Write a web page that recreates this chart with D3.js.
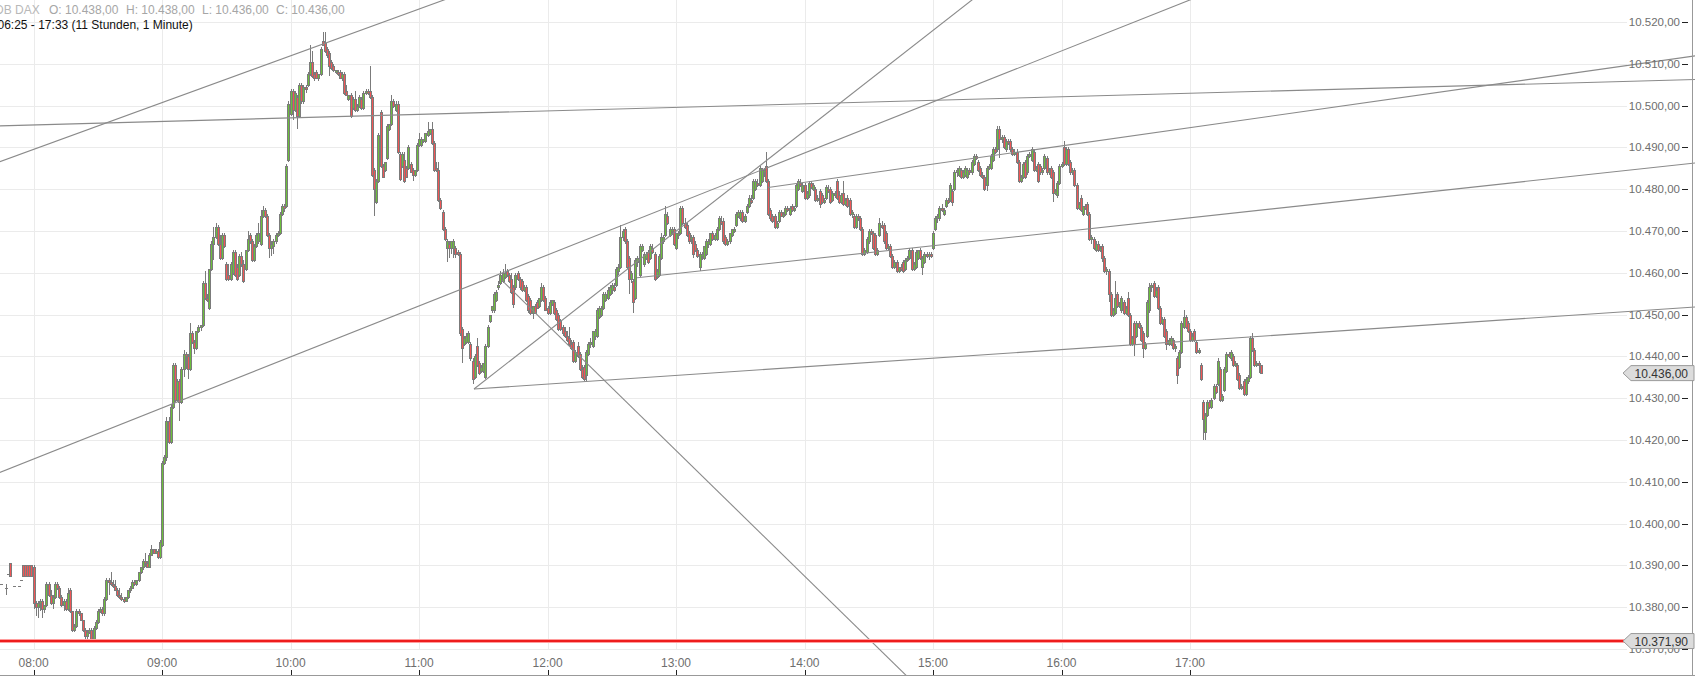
<!DOCTYPE html>
<html><head><meta charset="utf-8">
<script src="https://cdn.jsdelivr.net/npm/d3@7"></script>
<style>
html,body{margin:0;padding:0;background:#fff;overflow:hidden}
svg{display:block;font-family:"Liberation Sans",Arial,sans-serif}
</style></head><body>
<svg id="c" width="1695" height="676"></svg>
<script>
// ---------- DATA: 1-minute candles [open, high, low, close], one array per hour ----------
const hour07 = [ // from 07:44
 null,[10385.5,10385.5,10385.5,10385.5],null,[10384.5,10385.5,10383,10384.5],[10388,10388,10388,10388],
 [10390.5,10390.5,10387.5,10387.5],null,[10385,10385,10385,10385],null,[10385,10385,10385,10385],
 [10386.5,10386.5,10386.5,10386.5],[10390,10390,10387.5,10387.5],[10390,10390,10387.5,10387.5],[10390,10390,10387.5,10387.5],
 [10390,10390,10387.5,10387.5],[10390,10390,10387.5,10387.5]];
const hour08 = [
 [10389.5,10390,10379.5,10381],[10381,10381.5,10378,10380],[10380,10381.5,10377.5,10381],[10381,10382,10379,10381.5],[10381.5,10382,10377.5,10379.5],
 [10379.5,10380.5,10378.5,10380.5],[10380.5,10386,10380,10385.5],[10385.5,10386,10382.5,10383],[10383,10384,10380.5,10381],[10381,10383,10379.5,10382.5],
 [10382.5,10386,10382,10385.5],[10385.5,10386,10384,10384.5],[10384.5,10385,10382,10382.5],[10382.5,10383,10380,10380.5],[10380.5,10382,10379,10381.5],
 [10381.5,10382,10379,10379.5],[10379.5,10384.5,10379,10383.5],[10384,10384.5,10378.5,10379],[10379,10379,10374,10374.5],[10374.5,10376,10374,10375.5],
 [10375.5,10379.5,10375,10379],[10379,10379.5,10378,10378.5],[10378.5,10378.5,10377,10377],[10377,10377,10374,10374.5],[10374.5,10375,10372.5,10373],
 [10373,10374.5,10372,10374],[10374,10375,10373.5,10374.5],[10374.5,10375,10372.5,10372.5],[10372.5,10375.5,10372,10375],[10375,10377,10374.5,10376.5],
 [10376.5,10379.5,10376,10379],[10379,10380,10378.5,10379.5],[10379.5,10380,10378,10378.5],[10378.5,10382.5,10378,10382],[10382,10387,10381.5,10386.5],
 [10386.5,10387,10383,10386],[10386,10388.5,10385,10385.5],[10385.5,10386.5,10384.5,10385],[10385,10386.5,10384,10384],[10384,10384.5,10382.5,10383],
 [10383,10384.5,10382,10382.5],[10382.5,10383.5,10381.5,10382],[10382,10382.5,10381,10381.5],[10381.5,10382.5,10381.5,10382.5],[10382.5,10384,10382,10384],
 [10384,10385,10383.5,10384.5],[10384.5,10386.5,10384.5,10386],[10386,10386.5,10385,10385.5],[10385.5,10386.5,10385,10386.5],[10386.5,10388.5,10386,10388.5],
 [10388.5,10389.5,10388,10389.5],[10389.5,10391.5,10389,10391],[10391,10393,10389.5,10390.5],[10390.5,10391,10389.5,10389.5],[10389.5,10393,10389.5,10392.5],
 [10392.5,10395,10392.5,10394],[10394,10394,10393,10393],[10393,10394,10393,10393.5],[10393.5,10394,10391.5,10392],[10392,10396,10391.5,10395.5]];
const hour09 = [
 [10395,10415,10394.5,10414.5],[10414.5,10416.5,10414,10416],[10416,10425.5,10415,10424.5],[10424.5,10425.5,10419,10419.5],[10419.5,10428.5,10419,10428],
 [10428,10438.5,10427.5,10438],[10438,10438.5,10429,10429.5],[10429.5,10434.5,10429,10434],[10434,10434.5,10424.5,10429],[10429,10437.5,10428.5,10437],
 [10437,10441.5,10435,10440.5],[10440.5,10441,10437,10440],[10440,10440.5,10434.5,10437],[10437,10448,10436.5,10445.5],[10445.5,10446,10443,10443.5],
 [10443.5,10444,10440.5,10442],[10442,10446,10441.5,10446],[10446,10447.5,10445.5,10447],[10447,10447.5,10446,10447.5],[10447.5,10458,10447,10457.5],
 [10457.5,10460.5,10453.5,10454],[10454,10455,10453,10453.5],[10451.5,10461,10451,10461],[10461,10467.5,10460.5,10467],[10467,10471,10463,10468.5],
 [10468.5,10472,10468,10471],[10471,10471.5,10466.5,10467],[10467,10469,10463,10463.5],[10463.5,10469.5,10463,10469],[10469,10469.5,10466,10466.5],
 [10462,10462.5,10458,10458.5],[10459.5,10462,10458,10458.5],[10458.5,10462.5,10458,10462],[10460,10465.5,10459.5,10465],[10465,10465.5,10459,10459.5],
 [10461.5,10462,10458,10458.5],[10459.5,10464.5,10459,10464],[10464,10465,10461.5,10462],[10462,10463,10457.5,10458],[10461,10465.5,10460.5,10465.5],
 [10465.5,10470,10465,10468],[10469,10469.5,10467,10467.5],[10467.5,10468,10462.5,10463],[10463,10467,10462.5,10466.5],[10466.5,10469.5,10466,10469],
 [10467.5,10472,10467,10469.5],[10467,10475,10466.5,10473.5],[10473.5,10476,10473,10475],[10475,10475.5,10473,10473.5],[10473.5,10474,10468.5,10469],
 [10469,10469.5,10463.5,10466],[10466,10467.5,10464,10467],[10466.5,10468,10464.5,10467.5],[10467.5,10469.5,10467,10469],[10469,10470,10468.5,10469.5],
 [10469.5,10474.5,10469,10474],[10474,10476.5,10473.5,10476],[10476,10476.5,10474.5,10475.5],[10476,10486,10475.5,10485.5],[10487,10501,10486.5,10500.5]];
const hour10 = [
 [10498,10504,10497.5,10503.5],[10503.5,10504,10496.5,10499],[10499,10503.5,10498.5,10503],[10502,10502.5,10494.5,10497.5],[10497.5,10505.5,10497,10505],
 [10505,10505.5,10500.5,10501],[10501,10505,10500.5,10504.5],[10504.5,10505,10503,10504],[10505,10508,10504.5,10507.5],[10507.5,10514.5,10507,10510.5],
 [10510.5,10513,10506.5,10507],[10507.5,10508,10506,10506.5],[10508,10508.5,10506.5,10506.5],[10506.5,10507.5,10506,10507.5],[10507.5,10514,10507,10513.5],
 [10515.5,10517.5,10514.5,10514.5],[10515,10517.5,10512.5,10513],[10513.5,10514,10511.5,10512],[10512.5,10513,10507,10509.5],[10510.5,10511,10508.5,10509],
 [10509.5,10510,10508,10508.5],[10508,10508.5,10507.5,10508.5],[10508,10508.5,10507,10507.5],[10508,10508.5,10506.5,10506.5],[10506.5,10508,10506,10507.5],
 [10507.5,10508,10502.5,10503],[10503.5,10505,10502.5,10502.5],[10501.5,10502.5,10501,10502.5],[10502.5,10503,10497,10497.5],[10499.5,10502,10499,10501.5],
 [10501.5,10503.5,10498.5,10499],[10499,10500.5,10498.5,10500],[10500,10502.5,10499.5,10502],[10501.5,10502,10499,10499.5],[10499.5,10503.5,10499,10503],
 [10503,10504,10502.5,10503.5],[10503.5,10504,10502.5,10503],[10503.5,10509.5,10501.5,10502],[10502,10502.5,10483,10483.5],[10484.5,10485,10473.5,10480],
 [10477,10482.5,10476.5,10482],[10482,10493.5,10481.5,10493],[10498.5,10499,10485,10485.5],[10485.5,10486,10483,10483],[10484.5,10486.5,10484,10486.5],
 [10487.5,10495.5,10487,10495],[10494.5,10495.5,10494,10495.5],[10495.5,10502.5,10495,10501],[10501,10501.5,10499.5,10500],[10499,10501,10498.5,10500.5],
 [10500.5,10501,10488.5,10489],[10488.5,10489,10482,10482.5],[10485.5,10489,10485,10488.5],[10487,10489,10481.5,10482],[10485,10485.5,10483,10483],
 [10485,10490.5,10484.5,10490],[10486,10486.5,10484,10484],[10484.5,10485,10482,10483.5],[10483.5,10484.5,10483,10484.5],[10484.5,10491,10484,10490.5]];
const hour11 = [
 [10490.5,10493.5,10490,10492],[10490.5,10492.5,10490,10492],[10491.5,10492,10491,10492],[10491.5,10493.5,10491,10493.5],[10493,10496,10492.5,10494],
 [10493.5,10494.5,10493,10494.5],[10494.5,10496,10490.5,10491],[10491,10491.5,10484,10484.5],[10485,10486.5,10484,10484.5],[10484.5,10486.5,10477,10477.5],
 [10477.5,10478,10475,10475.5],[10474.5,10475,10470,10470.5],[10470.5,10471,10467.5,10468],[10466,10468,10462.5,10467.5],[10467,10467.5,10463.5,10466],
 [10466,10467.5,10464.5,10467.5],[10466,10468,10463.5,10467.5],[10466,10466.5,10463.5,10464.5],[10465,10465.5,10464,10464.5],[10464.5,10465,10445,10445.5],
 [10446.5,10447,10438.5,10442],[10443,10445,10442.5,10444.5],[10443.5,10445.5,10443,10445],[10443.5,10446,10443,10445.5],[10443,10443.5,10439,10439.5],
 [10439,10439.5,10433.5,10434.5],[10435,10440.5,10434.5,10440],[10442.5,10444.5,10437.5,10438],[10438.5,10439,10435.5,10436],[10436.5,10438,10436,10437.5],
 [10436.5,10438.5,10436,10438.5],[10435,10443,10434.5,10442.5],[10442.5,10447.5,10442,10447],[10448.5,10450,10448,10450],[10451,10452,10450.5,10452],
 [10451,10455.5,10450.5,10455],[10453.5,10456,10453,10455.5],[10456.5,10458,10456,10457],[10457.5,10460.5,10457,10459.5],[10458,10461,10457.5,10460],
 [10459,10462,10458.5,10460],[10460.5,10461,10459,10459.5],[10459.5,10460,10457.5,10458],[10458.5,10460,10455,10455.5],[10456.5,10457,10451.5,10452.5],
 [10456.5,10460,10456,10459.5],[10460,10460.5,10458,10458.5],[10458.5,10459,10456,10456.5],[10458,10458.5,10455.5,10456],[10456,10457,10455.5,10456.5],
 [10456.5,10457,10453,10453.5],[10454.5,10455,10450.5,10451],[10453.5,10454,10450,10450.5],[10450.5,10452,10449,10452],[10452,10452.5,10450.5,10450.5],
 [10453,10453.5,10451.5,10451.5],[10452,10454,10451.5,10454],[10453.5,10457.5,10453,10456.5],[10456.5,10457,10453,10453.5],[10454,10454.5,10451,10451]];
const hour12 = [
 [10451.5,10452,10450,10450.5],[10450.5,10453.5,10450,10453],[10452.5,10453.5,10452,10453.5],[10453,10453.5,10450,10450.5],[10451,10451.5,10448.5,10449],
 [10450,10450.5,10446,10446.5],[10448.5,10449,10446,10446.5],[10447,10447.5,10445,10445.5],[10446,10447,10444.5,10445],[10445,10446,10443.5,10444],
 [10444.5,10447,10442.5,10443],[10443,10444,10441.5,10442],[10443.5,10444,10438.5,10439],[10439,10441.5,10438.5,10441],[10442.5,10443.5,10439.5,10440],
 [10440.5,10441,10436.5,10437],[10437,10438,10434.5,10435],[10437.5,10438,10434,10434.5],[10435.5,10441.5,10434,10441],[10440.5,10443.5,10440,10443],
 [10443,10444.5,10442,10443.5],[10442.5,10446,10442,10446],[10445,10446.5,10444,10446],[10445,10451.5,10444.5,10451],[10449.5,10452,10449,10451.5],
 [10450,10452,10449.5,10451.5],[10451.5,10455.5,10451,10455],[10453.5,10455.5,10453,10455],[10454,10456.5,10453.5,10456],[10455,10457,10454.5,10456.5],
 [10456,10457.5,10455,10457],[10456.5,10457.5,10455.5,10456],[10457,10461.5,10456.5,10461],[10460.5,10462,10459.5,10461.5],[10461.5,10471.5,10461,10468.5],
 [10468.5,10470.5,10467.5,10470],[10470.5,10471,10467,10467.5],[10467.5,10468,10461,10461.5],[10463.5,10464,10455,10458.5],[10458.5,10460.5,10457.5,10460],
 [10458,10458.5,10450.5,10453],[10454,10463.5,10453.5,10463],[10462.5,10464,10461.5,10463.5],[10459.5,10467,10459,10466.5],[10465.5,10467,10465,10466.5],
 [10462,10465,10461.5,10464.5],[10463.5,10465,10463,10464.5],[10465,10465.5,10462,10462.5],[10463.5,10467,10463,10466.5],[10466,10467,10464.5,10465],
 [10464.5,10465,10458,10458.5],[10459,10461,10458.5,10460.5],[10459.5,10464.5,10459,10464],[10463.5,10469.5,10463,10468.5],[10467.5,10469,10467,10468.5],
 [10469,10476,10468.5,10474],[10473.5,10474.5,10471.5,10472],[10469,10471,10468.5,10470.5],[10470,10471,10469,10470.5],[10470.5,10471,10466.5,10467]];
const hour13 = [
 [10466,10469.5,10465.5,10469.5],[10469,10470,10468,10469.5],[10469.5,10476,10469,10475.5],[10475.5,10476,10471.5,10472],[10472,10473,10470.5,10471],
 [10471.5,10472,10468.5,10469],[10469.5,10470,10467,10467.5],[10468,10469,10467,10468.5],[10468.5,10469,10463.5,10464.5],[10467,10467.5,10465,10465.5],
 [10465.5,10466,10463.5,10464],[10461.5,10465,10460.5,10464.5],[10464,10465,10463,10464.5],[10463.5,10466.5,10463,10466.5],[10464.5,10468,10464,10467.5],
 [10467,10468,10466,10467.5],[10467,10469.5,10466.5,10469.5],[10469.5,10470,10467.5,10468],[10468,10469.5,10467.5,10469],[10468,10471,10467.5,10470.5],
 [10470.5,10473.5,10470,10473],[10472.5,10473.5,10471.5,10472],[10472.5,10473,10467,10467.5],[10468.5,10469,10466.5,10467],[10467,10468,10466.5,10467.5],
 [10467.5,10469.5,10467,10469.5],[10469,10470.5,10468.5,10470.5],[10470,10471,10469.5,10470.5],[10471.5,10474.5,10471,10474],[10473.5,10475,10473,10474.5],
 [10473,10475,10472.5,10474.5],[10474.5,10475,10472,10472.5],[10472.5,10474,10472,10473.5],[10474.5,10476.5,10474,10476],[10476,10478.5,10475.5,10478],
 [10477.5,10478.5,10476.5,10477],[10478,10482.5,10477.5,10482],[10480,10482.5,10479.5,10482],[10481.5,10482.5,10480.5,10481],[10481,10485.5,10480.5,10485],
 [10482,10485,10481.5,10484.5],[10484,10485,10483,10484.5],[10485.5,10489,10481.5,10482],[10482,10482.5,10473.5,10474],[10475,10475.5,10472.5,10473],
 [10473.5,10474,10472,10472.5],[10473.5,10474,10470.5,10471],[10471,10472.5,10470.5,10472],[10472.5,10475,10472,10474.5],[10474.5,10475,10473.5,10473.5],
 [10473.5,10474.5,10473,10474],[10474,10476,10473.5,10475.5],[10475.5,10476,10474.5,10475],[10474,10476,10473.5,10475.5],[10476,10476.5,10474.5,10475],
 [10475,10476,10474.5,10475.5],[10476,10481.5,10475.5,10481],[10480,10482.5,10479.5,10482],[10481.5,10482.5,10480.5,10481],[10479.5,10481.5,10479,10481]];
const hour14 = [
 [10481,10481.5,10477.5,10478],[10478,10479.5,10477.5,10479],[10478.5,10482,10478,10481.5],[10481.5,10482,10480,10480.5],[10480,10481.5,10479.5,10481],
 [10480,10480.5,10477,10477.5],[10477.5,10478.5,10477,10478],[10479.5,10480,10475.5,10476.5],[10478.5,10479,10476.5,10477],[10477,10478,10476.5,10477.5],
 [10478,10481,10477.5,10480.5],[10480,10481,10479,10479.5],[10480,10480.5,10476.5,10477],[10477.5,10479.5,10477,10479],[10478.5,10479.5,10478,10479],
 [10482,10482.5,10477.5,10478],[10478.5,10479.5,10476.5,10477],[10477,10479,10476.5,10478.5],[10479,10482,10476,10476.5],[10476.5,10478,10476,10477.5],
 [10478,10478.5,10475.5,10476],[10477.5,10478,10473.5,10474],[10474,10475,10473,10474.5],[10473.5,10474,10470.5,10471],[10471,10474,10470.5,10473.5],
 [10473.5,10474,10472.5,10473],[10473,10473.5,10470,10470.5],[10470.5,10471,10464,10464.5],[10464.5,10466,10464,10465.5],[10465,10468.5,10464.5,10468],
 [10467.5,10470.5,10467,10470],[10470,10470.5,10469,10469.5],[10469.5,10470,10465.5,10466],[10469,10469.5,10464,10464.5],[10464.5,10466,10464,10465.5],
 [10469,10473,10468.5,10472],[10471.5,10472.5,10470.5,10471],[10471.5,10472,10467,10467.5],[10469.5,10470,10465.5,10466],[10466,10467,10465.5,10466.5],
 [10466.5,10467,10463.5,10464],[10464,10464.5,10461,10461.5],[10461.5,10463,10461,10462.5],[10462.5,10463,10460,10460.5],[10460.5,10461.5,10460,10461.5],
 [10461.5,10462,10460.5,10461],[10462.5,10463,10460,10460.5],[10461,10463.5,10460.5,10463],[10463,10464,10462.5,10463.5],[10463.5,10466,10463,10465.5],
 [10465.5,10466,10460.5,10461],[10461,10462.5,10460.5,10462],[10461.5,10465.5,10461,10465],[10463.5,10465.5,10463,10465.5],[10465.5,10466,10463,10463.5],
 [10461.5,10464,10459.5,10463.5],[10462.5,10465,10462,10464.5],[10464.5,10465,10463.5,10464],[10464,10465,10463,10464.5],[10464.5,10465,10463.5,10464]];
const hour15 = [
 [10466,10470,10465.5,10469.5],[10470.5,10473.5,10470,10473],[10473,10474,10472,10473.5],[10473,10476,10472.5,10475.5],[10475.5,10476.5,10474.5,10475],
 [10474,10475.5,10473.5,10475],[10476,10478,10475.5,10477.5],[10477.5,10478,10476.5,10477],[10477.5,10481.5,10477,10481],[10479.5,10480,10476,10477],
 [10480,10484.5,10479.5,10484],[10484,10485,10483,10484.5],[10483.5,10485.5,10483,10485],[10484.5,10485,10482.5,10483],[10483,10484.5,10482.5,10484],
 [10483.5,10485.5,10483,10485],[10483,10485,10482.5,10484.5],[10484.5,10485,10483.5,10484],[10484,10487,10483.5,10486.5],[10486,10488.5,10485.5,10488],
 [10488,10488.5,10487,10487.5],[10486.5,10487,10484,10484.5],[10485,10485.5,10483,10483.5],[10483.5,10484,10482.5,10483],[10483,10483.5,10479.5,10480],
 [10481,10485.5,10479.5,10485],[10485,10486,10484.5,10485.5],[10485,10488.5,10484.5,10488],[10487,10490,10486.5,10489.5],[10489.5,10490,10488.5,10489],
 [10489.5,10495,10489,10494.5],[10494.5,10495,10487.5,10492],[10492,10493,10491,10492.5],[10492.5,10493,10489.5,10490],[10489.5,10492,10489,10491.5],
 [10491.5,10492,10490.5,10491],[10491.5,10492,10489,10489.5],[10489.5,10490,10488,10488.5],[10488.5,10489.5,10488,10489],[10489,10489.5,10486,10486.5],
 [10486.5,10487,10481.5,10482],[10482,10483.5,10481.5,10483],[10483,10486.5,10482.5,10486],[10486.5,10487,10482.5,10483],[10484,10488.5,10483.5,10488],
 [10488,10489,10487.5,10488.5],[10487,10490,10486.5,10489.5],[10489,10489.5,10484,10484.5],[10484.5,10485.5,10484,10485],[10486,10486.5,10481.5,10482],
 [10485.5,10486,10483.5,10484],[10484,10485,10483.5,10484.5],[10485,10488.5,10484.5,10488],[10487.5,10488,10483.5,10484],[10484,10485,10483.5,10484.5],
 [10485,10485.5,10482.5,10483],[10484,10484.5,10477,10479],[10479,10480,10478.5,10479.5],[10478.5,10482,10478,10481.5],[10481.5,10486,10481,10485.5]];
const hour16 = [
 [10485.5,10486.5,10485,10486],[10490,10491.5,10485.5,10486],[10486,10490,10485.5,10489.5],[10489.5,10490,10485.5,10486],[10486.5,10487,10483.5,10484],
 [10484,10485,10483.5,10484.5],[10484.5,10485,10480.5,10481],[10481,10481.5,10475,10475.5],[10475.5,10477,10475,10476.5],[10478,10478.5,10474.5,10475],
 [10474,10476,10473.5,10476],[10476,10476.5,10475,10475.5],[10476.5,10477,10473.5,10474],[10474,10474.5,10467.5,10468],[10468,10469,10467,10468.5],
 [10468,10468.5,10465.5,10466],[10465.5,10467.5,10465,10467],[10467,10467.5,10465,10465.5],[10465.5,10466.5,10465,10466],[10466.5,10467,10462.5,10463.5],
 [10463.5,10464,10460,10460.5],[10460.5,10461.5,10459.5,10461],[10460.5,10461,10453,10455],[10455,10455.5,10449.5,10450],[10450,10451.5,10449.5,10451],
 [10450.5,10458,10450,10454],[10455,10455.5,10451.5,10452],[10452,10453,10451.5,10452.5],[10451,10454.5,10450.5,10454],[10453,10453.5,10450,10450.5],
 [10450.5,10452,10450,10451.5],[10454,10455.5,10449.5,10450],[10450,10450.5,10442.5,10443],[10443,10445,10442.5,10444.5],[10448,10448.5,10440,10443],
 [10445,10448.5,10444.5,10448],[10448,10448.5,10446.5,10447],[10447,10447.5,10443.5,10444],[10445.5,10446,10439.5,10442],[10442,10443.5,10441.5,10443],
 [10445,10453.5,10444.5,10453],[10451,10457.5,10450.5,10456.5],[10456.5,10457.5,10455.5,10457],[10457.5,10458,10454,10454.5],[10454.5,10456.5,10454,10456],
 [10456.5,10457,10451,10451.5],[10451.5,10452,10447.5,10448],[10448,10449.5,10447.5,10449],[10449,10449.5,10444.5,10445],[10446,10446.5,10441.5,10443],
 [10443,10444.5,10442.5,10444],[10443,10445,10442.5,10444.5],[10444,10444.5,10441.5,10442],[10442,10443,10441,10442.5],[10439.5,10440,10433.5,10435.5],
 [10437.5,10441.5,10437,10441],[10441,10448.5,10440.5,10448],[10447,10451,10446.5,10449.5],[10449.5,10450,10446.5,10447],[10448,10448.5,10445.5,10446]];
const hour17 = [
 [10446,10446.5,10443.5,10444],[10444,10445.5,10443.5,10445],[10446,10446.5,10443.5,10444],[10443.5,10444,10440.5,10441],[10441,10442,10440.5,10441.5],
 [10438,10438.5,10434,10434.5],[10429,10429.5,10420,10425],[10422,10426.5,10420,10426],[10426,10429.5,10425.5,10429],[10429,10429.5,10427.5,10428],
 [10428,10430,10427.5,10429.5],[10430,10433.5,10429.5,10433],[10433,10433.5,10431,10431.5],[10433.5,10439.5,10433,10439],[10437,10437.5,10429,10429.5],
 [10429.5,10431,10429,10430.5],[10432,10437.5,10431.5,10437],[10436.5,10441,10436,10440.5],[10440.5,10441,10439.5,10440],[10439.5,10441.5,10439,10441],
 [10440,10440.5,10437.5,10438],[10438,10439,10437.5,10438.5],[10438,10438.5,10434,10434.5],[10435.5,10436,10432,10432.5],[10432.5,10433.5,10432,10433],
 [10434,10434.5,10430.5,10431],[10431,10435,10430.5,10434.5],[10434,10435.5,10433.5,10435],[10435,10445,10434.5,10444.5],[10444.5,10445.5,10441,10441.5],
 [10441.5,10442,10437.5,10438],[10438,10439,10437.5,10438.5],[10438.5,10439,10436,10438],[10438,10438,10436,10436]];
const hourStarts = ["07:44","08:00","09:00","10:00","11:00","12:00","13:00","14:00","15:00","16:00","17:00"];
const hourBars = [hour07,hour08,hour09,hour10,hour11,hour12,hour13,hour14,hour15,hour16,hour17];

const priceTicks = [10370,10380,10390,10400,10410,10420,10430,10440,10450,10460,10470,10480,10490,10500,10510,10520];
const timeTicks = ["08:00","09:00","10:00","11:00","12:00","13:00","14:00","15:00","16:00","17:00"];
const instrument = "DB DAX";
const rangeText = "06:25 - 17:33 (11 Stunden, 1 Minute)";
const supportLevel = 10371.9;
// drawn trend lines: [start time, start price, end time, end price]
const trendLines = [
 ["07:40",10485.8,"11:15",10525.9],
 ["07:40",10495.1,"21:00",10506.3],
 ["07:40",10411.4,"17:05",10526.3],
 ["11:25:39",10432.2,"15:40",10534.0],
 ["11:25:39",10432.2,"21:00",10451.95],
 ["11:38:30",10458.3,"14:50",10362.4],
 ["12:41:48",10458.8,"21:00",10486.5],
 ["13:43",10480.4,"21:00",10512.2]
];

// ---------- CHART ----------
const W = 1695, H = 676;
const parseT = d3.timeParse("%H:%M:%S");
const tp = s => parseT(s.length === 5 ? s + ":00" : s);
const x = d3.scaleTime().domain([tp("08:00"), tp("17:00")]).range([33.6, 1190]);
const y = d3.scaleLinear().domain([10370, 10520]).range([649, 22]);
const de = d3.formatLocale({decimal: ",", thousands: ".", grouping: [3], currency: ["", "€"]});
const fmt = de.format(",.2f");

const svg = d3.select("#c");
svg.append("rect").attr("width", W).attr("height", H).attr("fill", "#fff");

// grid
const grid = svg.append("g").attr("shape-rendering", "crispEdges");
grid.selectAll(".hg").data(priceTicks).join("line")
  .attr("x1", 0).attr("x2", 1627)
  .attr("y1", d => Math.round(y(d)) + 0.5).attr("y2", d => Math.round(y(d)) + 0.5)
  .attr("stroke", "#ebebeb");
grid.selectAll(".vg").data(timeTicks).join("line")
  .attr("x1", d => Math.round(x(tp(d))) + 0.5).attr("x2", d => Math.round(x(tp(d))) + 0.5)
  .attr("y1", 0).attr("y2", 650)
  .attr("stroke", "#ebebeb");

// bars
const bars = [];
hourBars.forEach((arr, k) => {
  const t0 = tp(hourStarts[k]);
  arr.forEach((b, i) => { if (b) bars.push({t: d3.timeMinute.offset(t0, i), o: b[0], h: b[1], l: b[2], c: b[3]}); });
});
const cg = svg.append("g").attr("shape-rendering", "crispEdges");
const GRAY = "#7b7b7b", UP = "#6cbf3c", DN = "#f05656";
bars.forEach(b => {
  const c = Math.round(x(b.t));
  const yh = Math.round(y(b.h)), yl = Math.round(y(b.l));
  cg.append("rect").attr("x", c).attr("y", yh).attr("width", 1).attr("height", Math.max(1, yl - yh)).attr("fill", GRAY);
  const yo = Math.round(y(b.o)), yc = Math.round(y(b.c));
  const top = Math.min(yo, yc), bot = Math.max(yo, yc);
  if (bot - top < 2) {
    cg.append("rect").attr("x", c - 1).attr("y", top).attr("width", 3).attr("height", Math.max(1, bot - top)).attr("fill", GRAY);
  } else {
    cg.append("rect").attr("x", c - 1).attr("y", top).attr("width", 3).attr("height", bot - top + 1).attr("fill", GRAY);
    cg.append("rect").attr("x", c).attr("y", top + 1).attr("width", 1).attr("height", bot - top - 1)
      .attr("fill", b.c > b.o ? UP : DN);
  }
});

// trend lines
svg.append("g").selectAll("line").data(trendLines).join("line")
  .attr("x1", d => x(tp(d[0]))).attr("y1", d => y(d[1]))
  .attr("x2", d => x(tp(d[2]))).attr("y2", d => y(d[3]))
  .attr("stroke", "#8a8a8a").attr("stroke-width", 1.1);

// support line
const ys = y(supportLevel);
svg.append("line").attr("x1", 0).attr("x2", 1624).attr("y1", ys).attr("y2", ys)
  .attr("stroke", "#ff9d9d").attr("stroke-width", 4);
svg.append("line").attr("x1", 0).attr("x2", 1624).attr("y1", ys).attr("y2", ys)
  .attr("stroke", "#ee1c1c").attr("stroke-width", 2);

// right axis
const ax = svg.append("g");
ax.selectAll("text").data(priceTicks).join("text")
  .attr("x", 1680).attr("y", d => y(d) + 4).attr("text-anchor", "end")
  .attr("font-size", 11.5).attr("fill", "#6e6e6e").text(d => fmt(d));
ax.selectAll("line").data(priceTicks).join("line")
  .attr("x1", 1682).attr("x2", 1688).attr("y1", d => Math.round(y(d)) + 0.5).attr("y2", d => Math.round(y(d)) + 0.5)
  .attr("stroke", "#222").attr("shape-rendering", "crispEdges");
svg.append("line").attr("x1", 1692.5).attr("x2", 1692.5).attr("y1", 0).attr("y2", H)
  .attr("stroke", "#999").attr("shape-rendering", "crispEdges");

// bottom axis
const bx = svg.append("g");
bx.selectAll("text").data(timeTicks).join("text")
  .attr("x", d => x(tp(d))).attr("y", 667).attr("text-anchor", "middle")
  .attr("font-size", 12).attr("fill", "#6e6e6e").text(d => d);
bx.selectAll("line").data(timeTicks).join("line")
  .attr("x1", d => Math.round(x(tp(d))) + 0.5).attr("x2", d => Math.round(x(tp(d))) + 0.5)
  .attr("y1", 670).attr("y2", 676).attr("stroke", "#222").attr("shape-rendering", "crispEdges");
svg.append("line").attr("x1", 0).attr("x2", W).attr("y1", 675.5).attr("y2", 675.5)
  .attr("stroke", "#999").attr("shape-rendering", "crispEdges");

// price tags
function tag(v) {
  const cy = y(v);
  const g = svg.append("g");
  g.append("path").attr("d", `M1623,${cy} L1631,${cy - 7.5} L1694,${cy - 7.5} L1694,${cy + 7.5} L1631,${cy + 7.5} Z`)
    .attr("fill", "#dcdcdc").attr("stroke", "#9a9a9a");
  g.append("text").attr("x", 1688).attr("y", cy + 4.5).attr("text-anchor", "end")
    .attr("font-size", 12).attr("fill", "#333").text(fmt(v));
}
const last = bars[bars.length - 1];
tag(last.c);
tag(supportLevel);

// header
const hd = svg.append("g").attr("font-size", 12);
hd.append("text").attr("x", -5).attr("y", 13.5).attr("fill", "#b8b8b8").text(instrument);
[["O", last.o, 49], ["H", last.h, 126], ["L", last.l, 202], ["C", last.c, 276]].forEach(d => {
  hd.append("text").attr("x", d[2]).attr("y", 13.5).attr("fill", "#a6a6a6").text(d[0] + ": " + fmt(d[1]));
});
hd.append("text").attr("x", -2.5).attr("y", 29).attr("fill", "#111").text(rangeText);
</script>
</body></html>
